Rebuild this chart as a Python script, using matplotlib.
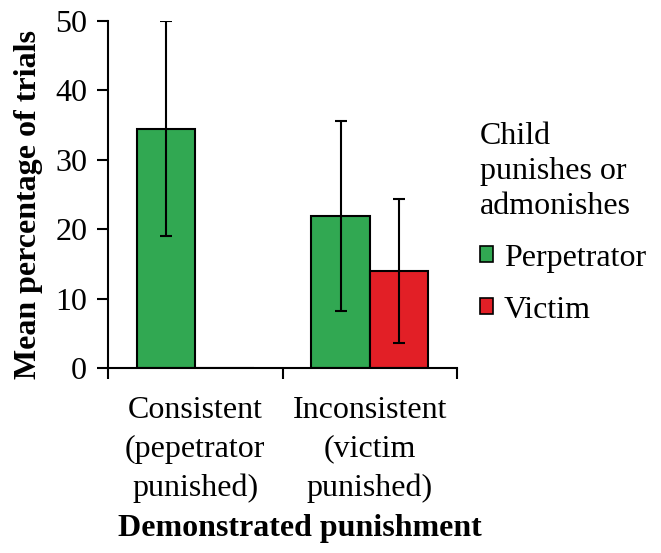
import matplotlib
matplotlib.use("Agg")
import matplotlib.pyplot as plt
import numpy as np

categories = ["Consistent\n(pepetrator\npunished)", "Inconsistent\n(victim\npunished)"]
series = ["Perpetrator", "Victim"]
perp_mean = [34.5, 21.9]
perp_err = [15.5, 13.7]
victim_mean = [0.0, 14.0]
victim_err = [0.0, 10.4]

GREEN = "#31A852"
RED = "#E21F26"
FS = 23

plt.rcParams.update({
    "font.family": ["Liberation Serif", "DejaVu Serif"],
    "font.size": FS,
})

fig = plt.figure(figsize=(6.61, 5.53), dpi=100)
ax = fig.add_axes([108 / 661, 1 - 368 / 553, (457 - 108) / 661, (368 - 21) / 553])

x = np.arange(len(categories))
w = 0.334
ekw = dict(ecolor="black", elinewidth=1.5, capsize=4.5, capthick=1.5)

ax.bar(x - w / 2, perp_mean, w, color=GREEN, edgecolor="black", linewidth=1.5,
       label=series[0], zorder=2)
ax.errorbar(x - w / 2, perp_mean, yerr=perp_err, fmt="none", zorder=3, **ekw)

vic_x = x + w / 2
ax.bar(vic_x, victim_mean, w, color=RED, edgecolor="black", linewidth=1.5,
       label=series[1], zorder=2)
ax.errorbar(vic_x[1:], victim_mean[1:], yerr=victim_err[1:], fmt="none", zorder=3, **ekw)

ax.set_xlim(-0.5, len(categories) - 0.5)
ax.set_ylim(0, 50)
ax.set_yticks(range(0, 51, 10))

ax.set_xticks(x)
ax.set_xticklabels(categories, linespacing=1.44)
ax.set_xticks(np.arange(-0.5, len(categories), 1.0), minor=True)
ax.tick_params(axis="x", which="major", length=0, pad=20)
ax.tick_params(axis="x", which="minor", length=8, width=1.5, direction="out")
ax.tick_params(axis="y", length=8, width=1.5, direction="out", pad=7)

for s in ["top", "right"]:
    ax.spines[s].set_visible(False)
for s in ["left", "bottom"]:
    ax.spines[s].set_linewidth(1.5)
ax.spines["bottom"].set_zorder(4)

ax.set_ylabel("Mean percentage of trials", fontweight="bold", fontsize=FS)
ax.yaxis.set_label_coords(-0.185, 0.47)
ax.set_xlabel("Demonstrated punishment", fontweight="bold", fontsize=FS)
ax.xaxis.set_label_coords(0.55, -0.42)

leg = ax.legend(title="Child\npunishes or\nadmonishes", loc="upper left",
                bbox_to_anchor=(1.066, 0.71), frameon=False, alignment="left",
                handlelength=0.4, handleheight=0.4, handletextpad=0.35,
                labelspacing=0.72, borderaxespad=0, borderpad=0, fontsize=FS,
                title_fontsize=FS)
leg.get_title().set_linespacing(1.27)
for h in leg.legend_handles:
    h.set_linewidth(1.2)

fig.savefig("out.png", dpi=100, facecolor="white")
